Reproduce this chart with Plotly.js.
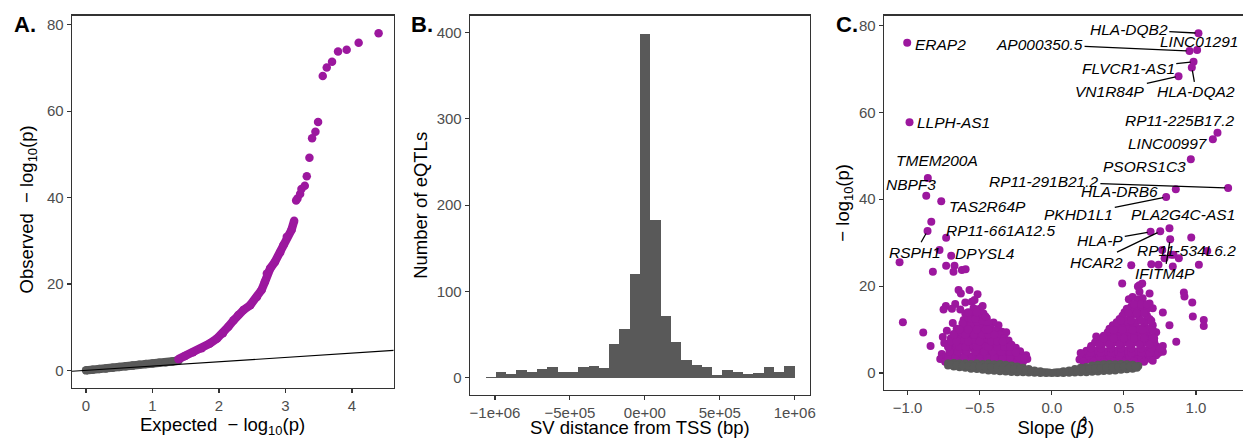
<!DOCTYPE html>
<html><head><meta charset="utf-8">
<script src="https://cdn.plot.ly/plotly-3.0.1.min.js"></script>
<style>html,body{margin:0;padding:0;background:#fff}#chart{width:1243px;height:438px}</style>
</head><body><div id="chart"></div>
<script>
// ---------- Panel A: QQ plot ----------
const qqExpNull = [0.00,0.10,0.20,0.30,0.40,0.50,0.60,0.70,0.80,0.90,1.00,1.10,1.20,1.30,1.39];
const qqObsNull = [0.00,0.15,0.30,0.45,0.60,0.80,0.95,1.10,1.30,1.45,1.60,1.75,1.90,2.05,2.25];
const qqExpSig = [1.39,1.49,1.61,1.74,1.86,1.97,2.06,2.14,2.22,2.29,2.37,2.47,2.57,2.64,2.69,2.72,2.77,2.84,2.92,2.97,3.02,3.09,3.13];
const qqObsSig = [2.6,3.3,4.2,5.1,6.2,7.4,8.6,10.1,11.6,12.8,14.0,15.1,17.0,18.6,20.5,22.4,23.6,25.1,27.3,29.0,30.9,32.5,34.6];
const qqExpTop = [3.16,3.18,3.22,3.24,3.29,3.32,3.36,3.40,3.45,3.49,3.56,3.62,3.70,3.79,3.92,4.10,4.40];
const qqObsTop = [39.3,39.8,40.8,42.0,42.7,44.9,49.2,53.7,55.2,57.5,68.1,70.1,71.4,73.8,74.2,75.8,78.0];

// ---------- Panel B: histogram of SV distance to TSS ----------
const histBinStart = -1063400;
const histBinWidth = 68760;
const histCounts = [1,7,4,9,6,10,12,6,7,12,13,11,39,56,120,398,183,71,41,21,15,12,3,9,7,4,5,12,7,14];
const histTickVals = [-1e6,-5e5,0,5e5,1e6];
const histTickText = ['\u22121e+06','\u22125e+05','0e+00','5e+05','1e+06'];

// ---------- Panel C: volcano ----------
const volcLabGene = ['ERAP2','LLPH-AS1','HLA-DQB2','LINC01291','AP000350.5','FLVCR1-AS1','HLA-DQA2','VN1R84P',
  'RP11-225B17.2','LINC00997','PSORS1C3','RP11-291B21.2','HLA-DRB6','PKHD1L1','PLA2G4C-AS1','HLA-P','HCAR2',
  'RP11-534L6.2','IFITM4P','TMEM200A','NBPF3','TAS2R64P','RSPH1','RP11-661A12.5','DPYSL4'];
const volcLabSlope = [-1.003,-0.987,1.017,1.008,0.955,0.983,0.971,0.879,
  1.149,1.117,0.964,1.223,0.860,0.793,0.816,0.685,0.752,
  0.828,0.821,-0.860,-0.871,-0.767,-0.862,-0.733,-0.698];
const volcLabLogP = [76.0,57.7,78.2,74.3,74.1,71.6,70.3,68.3,
  55.3,53.8,49.2,42.6,42.3,40.5,33.3,32.5,32.6,
  27.2,30.8,44.9,40.8,39.5,32.7,31.1,27.0];

// significant, unlabeled: negative slopes
const volcSigNegSlope = [
  -0.836,-0.779,-1.056,-0.825,-0.733,-0.675,-0.682,-0.624,-0.598,
  -1.033,-0.892,-0.841,
  -0.647,-0.631,-0.571,-0.515,
  -0.735,-0.670,-0.600,-0.555,-0.536,
  -0.751,-0.693,-0.635,-0.543,-0.497,
  -0.600,-0.566,-0.474,
  -0.612,-0.508,-0.451,-0.582,
  -0.687,-0.370,-0.404,-0.617,
  -0.728,-0.589,-0.520,-0.451,-0.347,-0.316,
  -0.589,-0.531,-0.474,-0.432,
  -0.756,-0.640,-0.566,-0.497,-0.416,
  -0.746,-0.670,-0.589,-0.520,-0.451,-0.381,-0.312,
  -0.763,-0.682,-0.600,-0.531,-0.451,-0.381,-0.300,-0.243,-0.224,-0.178,
  -0.774,-0.733,-0.693,-0.624,-0.543,-0.474,-0.404,-0.335,-0.266,-0.196,
  -0.70,-0.66,-0.62,-0.58,-0.54,-0.50,-0.46,-0.42,-0.38,-0.34,-0.30,-0.27,
  -0.66,-0.64,-0.56,-0.50,-0.42,-0.36,-0.32,-0.28,-0.24,-0.21,
  -0.64,-0.60,-0.55,-0.48,-0.44,-0.40,-0.36,-0.34,-0.30,
  -0.62,-0.56,-0.50,-0.46,-0.41,-0.38,
  -0.54,-0.50,-0.56,-0.52,-0.48,-0.44,
  -0.66,-0.62,-0.57,-0.53,-0.49,-0.46,-0.42,-0.40,-0.36,-0.32,-0.28,-0.26,
  -0.70,-0.68,-0.66,-0.62,-0.58,-0.55,-0.52,-0.48,-0.46,-0.42,-0.39,-0.36,-0.33,-0.30,-0.28,-0.25,-0.22,-0.20,-0.17,
  -0.72,-0.66,-0.60,-0.52,-0.46,-0.39,-0.30,-0.23,
  -0.74,-0.69,-0.64,-0.58,-0.53,-0.48,-0.43,-0.38,-0.33,-0.28,-0.24,-0.20,
  -0.72,-0.67,-0.61,-0.55,-0.50,-0.45,-0.40,-0.34,-0.29,-0.23,-0.19,
  -0.71,-0.65,-0.59,-0.53,-0.47,-0.41,-0.35,-0.29,-0.25,
  -0.72,-0.64,-0.60,-0.52,-0.44,-0.38,-0.33,-0.29,
  -0.70,-0.66,-0.58,-0.50,-0.42,-0.38,-0.34,
  -0.68,-0.60,-0.54,-0.48,-0.44,-0.40,
  -0.64,-0.58,-0.52,-0.46,-0.44,
  -0.56,-0.53,-0.58,-0.52
];
const volcSigNegLogP = [
  34.8,28.3,25.5,23.3,24.7,24.7,23.3,23.7,23.9,
  11.7,9.3,6.2,
  19.1,18.3,19.1,18.1,
  15.4,15.9,16.2,16.4,16.8,
  14.6,14.8,14.6,14.9,14.8,
  13.7,13.3,13.7,
  12.2,13.0,12.6,12.0,
  11.5,11.0,11.6,10.7,
  9.7,9.7,9.7,9.7,9.5,9.4,
  10.8,10.8,10.8,10.6,
  8.3,8.5,8.5,8.5,8.5,
  6.9,6.9,6.9,6.9,6.9,6.9,6.9,
  4.4,4.4,4.4,4.4,4.4,4.4,4.4,4.4,4.5,4.1,
  3.2,3.8,3.0,3.0,3.0,3.0,3.0,3.0,3.0,3.0,
  5.6,5.7,5.5,5.8,5.6,5.5,5.7,5.6,5.4,5.6,5.5,5.2,
  4.0,3.6,3.8,3.9,3.7,3.6,3.8,3.6,3.4,3.3,
  7.8,8.0,7.6,7.7,7.8,7.5,7.7,6.2,6.3,
  9.2,9.4,9.1,9.3,9.1,8.2,
  10.2,10.4,11.3,11.8,12.0,11.5,
  6.5,7.2,6.3,7.4,6.3,6.1,6.3,5.0,4.8,4.9,4.7,3.9,
  8.0,9.0,10.2,11.4,12.8,13.8,14.6,15.4,13.0,10.2,9.8,8.8,8.0,7.5,6.5,5.8,5.0,3.9,3.2,
  2.9,2.7,2.8,2.7,2.8,2.7,2.6,2.7,
  2.6,2.5,2.6,2.6,2.5,2.6,2.6,2.5,2.6,2.5,2.6,2.6,
  3.5,3.4,3.5,3.5,3.4,3.5,3.5,3.4,3.5,3.5,3.4,
  4.9,4.9,5.0,4.9,4.9,5.0,4.9,4.9,4.8,
  6.0,6.0,6.0,6.0,6.0,6.0,6.0,6.0,
  7.3,7.3,7.3,7.3,7.3,7.3,7.3,
  8.8,8.8,8.8,8.8,8.8,8.8,
  10.0,10.0,10.0,10.0,10.0,
  12.5,12.5,14.0,14.0
];

// significant, unlabeled: positive slopes
const volcSigPosSlope = [
  1.078,0.967,0.766,0.881,0.844,0.782,0.839,0.74,0.69,
  1.020,0.551,0.488,0.608,0.627,0.597,0.608,0.678,
  0.916,0.920,0.974,0.978,1.054,1.054,0.816,0.863,0.770,0.770,0.724,
  0.534,0.585,0.551,0.678,0.700,
  0.504,0.562,0.631,
  0.470,0.539,0.608,0.678,
  0.423,0.493,0.562,0.643,0.700,
  0.388,0.458,0.527,0.597,0.666,0.724,
  0.331,0.400,0.470,0.539,0.608,0.678,
  0.273,0.343,0.412,0.481,0.551,0.620,0.724,0.770,
  0.227,0.296,0.366,0.435,0.504,0.574,0.655,0.724,
  0.192,0.250,0.319,0.388,0.458,0.527,0.597,
  0.308,0.343,0.365,
  0.26,0.33,0.40,0.47,0.54,0.62,0.68,
  0.24,0.31,0.38,0.45,0.52,0.59,0.66,0.70,
  0.30,0.37,0.44,0.51,0.58,0.65,0.71,
  0.36,0.43,0.50,0.57,0.64,0.70,
  0.40,0.46,0.53,0.60,0.67,
  0.45,0.52,0.58,0.65,
  0.49,0.55,0.60,0.66,
  0.52,0.58,0.62,0.66,
  0.56,0.63,0.60,
  0.22,0.29,0.36,0.43,0.50,0.57,0.64,0.70,
  0.20,0.27,0.34,0.41,0.48,0.55,0.62,0.68,0.74,
  0.27,0.34,0.41,0.48,0.55,0.62,0.69,0.75,
  0.33,0.40,0.47,0.54,0.61,0.68,
  0.36,0.43,0.50,0.57,0.64,0.71,
  0.43,0.49,0.56,0.63,0.70,
  0.48,0.55,0.62,0.69,
  0.53,0.59,0.64,
  0.57,0.62,0.66
];
const volcSigPosLogP = [
  28.1,31.2,28.3,26.4,27.2,26.4,24.5,24.9,25.0,
  24.9,24.8,20.6,20.2,20.6,19.9,18.7,18.3,
  18.5,17.6,16.2,13.0,12.2,10.8,11.0,7.2,13.9,4.9,5.3,
  17.0,16.0,15.3,16.0,14.9,
  14.0,14.0,14.0,
  12.4,12.4,12.4,12.4,
  11.0,11.0,11.0,11.0,11.0,
  9.4,9.4,9.4,9.4,9.4,9.4,
  7.8,7.8,7.8,7.8,7.8,7.8,
  6.2,6.2,6.2,6.2,6.2,6.2,6.2,6.2,
  4.1,4.1,4.1,4.1,4.1,4.1,4.1,4.1,
  3.1,3.1,3.1,3.1,3.1,3.1,3.1,
  8.4,7.6,8.4,
  3.6,3.7,3.5,3.6,3.7,3.5,3.3,
  5.1,5.2,5.0,5.1,5.2,5.0,5.3,4.6,
  7.0,7.0,7.1,7.0,7.1,7.0,7.2,
  8.6,8.7,8.6,8.7,8.5,8.3,
  10.2,10.3,10.2,10.3,10.1,
  11.7,11.8,11.6,11.8,
  13.2,13.0,13.3,13.2,
  14.8,14.6,15.2,14.7,
  17.5,17.2,17.0,
  2.6,2.6,2.5,2.6,2.6,2.7,2.6,2.8,
  4.6,4.6,4.6,4.6,4.6,4.6,4.6,4.6,4.6,
  5.7,5.7,5.7,5.7,5.7,5.7,5.7,5.7,
  6.6,6.6,6.6,6.6,6.6,6.6,
  8.0,8.0,8.0,8.0,8.0,8.0,
  9.9,9.9,9.9,9.9,9.9,
  12.0,12.0,12.0,12.0,
  13.8,13.8,13.8,
  15.8,15.8,15.8
];

// not significant
const volcNullSlope = [
  -0.72,-0.68,-0.64,-0.60,-0.56,-0.52,-0.48,-0.44,-0.40,-0.36,-0.32,-0.28,-0.24,-0.20,-0.16,-0.12,-0.08,-0.04,0.00,
  0.04,0.08,0.12,0.16,0.20,0.24,0.28,0.32,0.36,0.40,0.44,0.48,0.52,0.56,0.59,
  -0.72,-0.68,-0.64,-0.60,-0.56,-0.52,-0.48,-0.44,-0.40,-0.36,-0.32,-0.28,-0.24,-0.20,-0.16,-0.12,-0.08,-0.04,
  0.04,0.08,0.12,0.16,0.20,0.24,0.28,0.32,0.36,0.40,0.44,0.48,0.52,0.56,0.60,
  -0.70,-0.66,-0.62,-0.58,-0.54,-0.50,-0.46,-0.42,-0.38,-0.34,-0.30,-0.26,-0.22,-0.18,-0.14,-0.10,-0.06,-0.02,
  0.02,0.06,0.10,0.14,0.18,0.22,0.26,0.30,0.34,0.38,0.42,0.46,0.50,0.54,0.58
];
const volcNullLogP = [
  1.7,1.5,1.3,1.2,1.0,0.9,0.75,0.6,0.5,0.4,0.35,0.25,0.2,0.15,0.1,0.05,0.02,0.01,0.0,
  0.01,0.03,0.06,0.1,0.15,0.2,0.3,0.35,0.45,0.5,0.6,0.75,0.85,1.0,1.2,
  2.2,2.3,2.2,2.2,2.1,2.2,2.1,2.2,2.0,2.1,1.9,1.7,1.5,1.2,0.9,0.6,0.4,0.2,
  0.2,0.4,0.6,0.9,1.2,1.4,1.7,1.9,2.0,2.1,2.0,2.1,2.0,1.9,1.6,
  1.9,1.8,1.7,1.6,1.55,1.5,1.4,1.35,1.25,1.2,1.05,0.95,0.8,0.6,0.4,0.3,0.15,0.1,
  0.1,0.15,0.3,0.4,0.6,0.75,0.9,1.05,1.15,1.25,1.3,1.4,1.45,1.5,1.45
];

// label text placement (layout only): [centre x, centre y, draw segment]
const labelPlacement = {
  'HLA-DQB2':[0.534,79.1,true], 'LINC01291':[1.021,76.2,false], 'AP000350.5':[-0.085,75.6,true],
  'FLVCR1-AS1':[0.530,70.0,true], 'VN1R84P':[0.406,64.7,true], 'HLA-DQA2':[1.001,64.7,true],
  'RP11-225B17.2':[0.886,58.0,false], 'LINC00997':[0.808,52.7,false], 'PSORS1C3':[0.643,47.5,false],
  'RP11-291B21.2':[-0.055,44.0,true], 'HLA-DRB6':[0.470,41.7,false], 'PKHD1L1':[0.187,36.4,true],
  'PLA2G4C-AS1':[0.909,36.4,false], 'HLA-P':[0.336,30.4,true], 'HCAR2':[0.308,25.5,true],
  'RP11-534L6.2':[0.932,28.1,false], 'IFITM4P':[0.782,22.8,true], 'TMEM200A':[-0.798,49.0,false],
  'NBPF3':[-0.975,43.4,false], 'TAS2R64P':[-0.449,38.3,false], 'RSPH1':[-0.946,27.8,true],
  'RP11-661A12.5':[-0.351,32.7,false], 'DPYSL4':[-0.461,27.5,false], 'ERAP2':[-0.774,75.7,false],
  'LLPH-AS1':[-0.685,57.6,false]
};

const PURPLE = '#9C179E', GREY = '#595959';
const FONT = '"Liberation Sans", Arial, Helvetica, sans-serif';
const W = 1243, H = 438;
const px2x = p => p / W, px2y = p => 1 - p / H;
const NB = '&nbsp;';

const xRangeA = [-0.2105, 4.627];
const histCenters = histCounts.map((c, i) => histBinStart + (i + 0.5) * histBinWidth);

const traces = [
  {x: qqExpNull, y: qqObsNull, xaxis:'x', yaxis:'y', mode:'lines+markers', line:{color:GREY,width:8.5}, marker:{color:GREY,size:8.5}},
  {x: qqExpSig, y: qqObsSig, xaxis:'x', yaxis:'y', mode:'lines+markers', line:{color:PURPLE,width:8.5}, marker:{color:PURPLE,size:8.5}},
  {x: qqExpTop, y: qqObsTop, xaxis:'x', yaxis:'y', mode:'markers', marker:{color:PURPLE,size:8.5}},
  {x: xRangeA, y: xRangeA, xaxis:'x', yaxis:'y', mode:'lines', line:{color:'#000',width:1.1}},
  {type:'bar', x: histCenters, y: histCounts, width: histBinWidth, xaxis:'x2', yaxis:'y2', marker:{color:GREY, line:{width:0}}},
  {x: volcSigNegSlope, y: volcSigNegLogP, xaxis:'x3', yaxis:'y3', mode:'markers', marker:{color:PURPLE,size:8}},
  {x: volcSigPosSlope, y: volcSigPosLogP, xaxis:'x3', yaxis:'y3', mode:'markers', marker:{color:PURPLE,size:8}},
  {x: volcLabSlope, y: volcLabLogP, xaxis:'x3', yaxis:'y3', mode:'markers', marker:{color:PURPLE,size:8}},
  {x: volcNullSlope, y: volcNullLogP, xaxis:'x3', yaxis:'y3', mode:'markers', marker:{color:GREY,size:8}}
];

function axis(o) {
  const base = {showline:true, mirror:true, linecolor:'#333', linewidth:1.3, ticks:'outside', ticklen:4,
    tickwidth:1.1, tickcolor:'#333', showgrid:false, zeroline:false,
    tickfont:{family:FONT,size:15,color:'#4D4D4D'}};
  const t = o.titleText; delete o.titleText;
  const st = o.standoff; delete o.standoff;
  base.title = {text:t, font:{family:FONT,size:18.5,color:'#000'}, standoff:st};
  return Object.assign(base, o);
}

const annotations = [];
[['A.',12],['B.',409],['C.',834]].forEach(([t,x]) => annotations.push({
  xref:'paper', yref:'paper', x:px2x(x), y:px2y(25), xanchor:'left', yanchor:'middle', showarrow:false,
  text:'<b>'+t+'</b>', font:{family:FONT,size:22,color:'#000'}
}));
volcLabGene.forEach((g, i) => {
  const [tx, ty, seg] = labelPlacement[g];
  const a = {xref:'x3', yref:'y3', text:'<i>'+g+'</i>', font:{family:FONT,size:15.5,color:'#000'},
    xanchor:'center', yanchor:'middle'};
  if (seg) {
    Object.assign(a, {x:volcLabSlope[i], y:volcLabLogP[i], axref:'x3', ayref:'y3', ax:tx, ay:ty,
      showarrow:true, arrowhead:0, arrowwidth:1.3, arrowcolor:'#000', standoff:3});
  } else {
    Object.assign(a, {x:tx, y:ty, showarrow:false});
  }
  annotations.push(a);
});

const layout = {
  width:W, height:H, margin:{l:0,r:0,t:0,b:0}, paper_bgcolor:'#fff', plot_bgcolor:'#fff',
  showlegend:false, hovermode:false, bargap:0,
  font:{family:FONT},
  xaxis: axis({domain:[px2x(72),px2x(393.7)], range:xRangeA, tickvals:[0,1,2,3,4], anchor:'y',
    titleText:'Expected' + NB + NB + '\u2212' + NB + 'log<sub>10</sub>(p)' + NB + NB + NB + NB, standoff:4}),
  yaxis: axis({domain:[px2y(387.7),px2y(15.7)], range:[-4.01,82.08], tickvals:[0,20,40,60,80], anchor:'x',
    titleText:'Observed' + NB + NB + '\u2212' + NB + 'log<sub>10</sub>(p)' + NB + NB + NB, standoff:8}),
  xaxis2: axis({domain:[px2x(470),px2x(809.7)], range:[-1.1669e6,1.1002e6], tickvals:histTickVals, ticktext:histTickText, anchor:'y2',
    titleText:'SV distance from TSS (bp)', standoff:6}),
  yaxis2: axis({domain:[px2y(395),px2y(15.7)], range:[-20.1,419.7], tickvals:[0,100,200,300,400], anchor:'x2',
    titleText:'Number of eQTLs', standoff:4}),
  xaxis3: axis({domain:[px2x(884),1], range:[-1.164,1.326], tickvals:[-1,-0.5,0,0.5,1], ticktext:['\u22121.0','\u22120.5','0.0','0.5','1.0'], anchor:'y3',
    titleText:'Slope (<span style="font-family:\'DejaVu Sans\'"><i>\u03B2\u0302</i></span>)' + NB + NB + NB, standoff:4}),
  yaxis3: axis({domain:[px2y(390),px2y(15.7)], range:[-3.91,82.22], tickvals:[0,20,40,60,80], anchor:'x3',
    titleText:'\u2212' + NB + 'log<sub>10</sub>(p)', standoff:4}),
  annotations: annotations
};

Plotly.newPlot('chart', traces, layout, {staticPlot:true, displayModeBar:false});
</script>
</body></html>
